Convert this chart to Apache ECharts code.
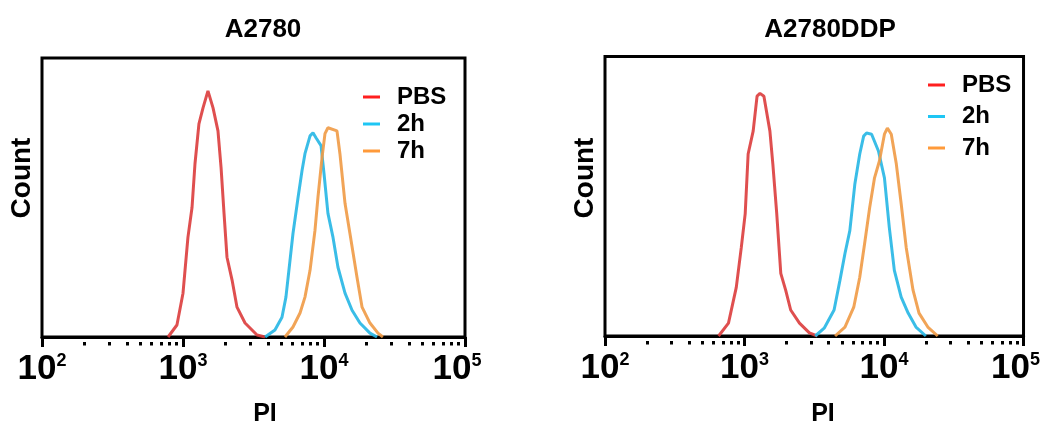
<!DOCTYPE html>
<html>
<head>
<meta charset="utf-8">
<script src="https://cdn.jsdelivr.net/npm/echarts@6.0.0/dist/echarts.min.js"></script>
<style>
  html, body { margin: 0; padding: 0; background: #fff; }
  #main { width: 1051px; height: 428px; }
</style>
</head>
<body>
<div id="main"></div>
<script>
// x values are log10(PI), y values are relative count (0-100)
var decades = [2, 3, 4, 5];

// A2780
var pbsA_x = [2.894, 2.957, 3.000, 3.035, 3.064, 3.085, 3.113, 3.142, 3.177, 3.213, 3.248, 3.270, 3.291, 3.312, 3.348, 3.383, 3.440, 3.525, 3.582];
var pbsA_y = [0, 4.3, 15.7, 35.7, 46.4, 62.1, 76.4, 82.1, 88.2, 82.1, 73.9, 60.7, 44.3, 28.6, 20.4, 10.7, 5.0, 0.7, 0];
var h2A_x = [3.582, 3.652, 3.702, 3.730, 3.759, 3.780, 3.816, 3.844, 3.865, 3.901, 3.922, 3.943, 3.979, 4.000, 4.028, 4.064, 4.099, 4.149, 4.199, 4.255, 4.326, 4.376];
var h2A_y = [0, 2.5, 7.1, 14.3, 27.5, 37.1, 50.0, 59.6, 65.7, 72.1, 73.2, 71.4, 68.6, 58.6, 44.3, 35.7, 25.0, 15.7, 9.6, 5.0, 1.4, 0];
var h7A_x = [3.723, 3.780, 3.830, 3.865, 3.901, 3.936, 3.957, 3.986, 4.007, 4.028, 4.092, 4.113, 4.149, 4.184, 4.234, 4.270, 4.326, 4.383, 4.418];
var h7A_y = [0, 3.6, 8.6, 14.3, 23.9, 38.2, 50.0, 64.3, 72.9, 75.0, 73.9, 65.7, 47.9, 37.1, 21.4, 10.7, 5.0, 1.4, 0];

// A2780DDP
var pbsB_x = [2.814, 2.885, 2.941, 2.977, 3.005, 3.026, 3.062, 3.090, 3.111, 3.139, 3.182, 3.203, 3.231, 3.260, 3.295, 3.331, 3.394, 3.465, 3.522];
var pbsB_y = [0, 4.6, 17.4, 31.7, 43.8, 65.1, 73.3, 85.8, 86.8, 85.8, 73.3, 61.6, 43.8, 22.4, 16.4, 9.3, 4.6, 1.1, 0];
var h2B_x = [3.507, 3.571, 3.642, 3.684, 3.720, 3.755, 3.791, 3.826, 3.854, 3.875, 3.911, 3.960, 4.003, 4.038, 4.074, 4.123, 4.173, 4.229, 4.300];
var h2B_y = [0, 2.8, 9.3, 19.9, 29.5, 37.7, 54.4, 65.1, 71.5, 72.6, 72.2, 66.2, 56.6, 38.8, 23.5, 13.9, 8.2, 3.2, 0];
var h7B_x = [3.649, 3.720, 3.783, 3.826, 3.861, 3.897, 3.932, 3.967, 4.003, 4.024, 4.052, 4.088, 4.123, 4.159, 4.208, 4.251, 4.314, 4.385];
var h7B_y = [0, 3.2, 10.3, 21.0, 33.1, 45.9, 56.6, 62.6, 72.2, 74.4, 72.2, 61.6, 47.3, 31.7, 16.4, 8.2, 3.2, 0];

var seriesNames = ['PBS', '2h', '7h'];
var panelTitles = ['A2780', 'A2780DDP'];

var FONT = 'Liberation Sans, Arial, Helvetica, sans-serif';
var lineColors = ['#dc3c3c', '#25b6e4', '#ef9a45'];
var iconColors = ['#ff1f1f', '#1ec6f4', '#ff9a3a'];

function pairs(xs, ys) {
    return xs.map(function (x, i) { return [x, ys[i]]; });
}

// minor ticks at 2..9 x 10^n
var minorTicks = [];
[2, 3, 4].forEach(function (d) {
    for (var k = 2; k <= 9; k++) minorTicks.push(d + Math.log10(k));
});

function mainX(g) {
    return {
        type: 'value', gridIndex: g, min: 2, max: 5, interval: 1,
        axisLine: { show: true, lineStyle: { color: '#000', width: 3 } },
        axisTick: { show: true, length: 10, lineStyle: { color: '#000', width: 3 } },
        splitLine: { show: false },
        axisLabel: {
            margin: 15, showMinLabel: true, showMaxLabel: true, hideOverlap: false,
            formatter: function (v) {
                return '{b|10}{s|' + v + '}' + (v === 5 ? '{sp|}' : '');
            },
            rich: {
                b: { fontSize: 35, fontWeight: 'bold', fontFamily: FONT, color: '#000', lineHeight: 35 },
                s: { fontSize: 18, fontWeight: 'bold', fontFamily: FONT, color: '#000', verticalAlign: 'top', lineHeight: 20 },
                sp: { width: 16 }
            }
        }
    };
}

function minorX(g) {
    return {
        type: 'value', gridIndex: g, min: 2, max: 5, position: 'bottom', offset: 5,
        axisLine: { show: false },
        axisTick: { show: true, length: 3.5, customValues: minorTicks, lineStyle: { color: '#000', width: 3 } },
        axisLabel: { show: false },
        splitLine: { show: false }
    };
}

function yAx(g) {
    return {
        type: 'value', gridIndex: g, min: 0, max: 100,
        axisLine: { show: false }, axisTick: { show: false },
        axisLabel: { show: false }, splitLine: { show: false }
    };
}

function mkSeries(name, idx, g, xs, ys) {
    return {
        name: name, type: 'line', xAxisIndex: g * 2, yAxisIndex: g,
        data: pairs(xs, ys), showSymbol: false, symbol: 'none',
        itemStyle: { color: iconColors[idx] },
        lineStyle: { color: lineColors[idx], width: 3, opacity: 0.9 },
        z: 3
    };
}

var legendText = { fontSize: 24, fontWeight: 'bold', fontFamily: FONT, color: '#000', lineHeight: 24, padding: [0, 0, 0, 12] };

var option = {
    animation: false,
    title: [
        { text: panelTitles[0], left: 258, top: 12, textAlign: 'center',
          textStyle: { fontSize: 26, fontWeight: 'bold', fontFamily: FONT, color: '#000' } },
        { text: panelTitles[1], left: 825, top: 12, textAlign: 'center',
          textStyle: { fontSize: 26, fontWeight: 'bold', fontFamily: FONT, color: '#000' } }
    ],
    grid: [
        { left: 42, top: 58, width: 423, height: 279, show: true, borderColor: '#000', borderWidth: 3, backgroundColor: 'transparent' },
        { left: 605, top: 56.5, width: 423, height: 279.5, show: true, borderColor: '#000', borderWidth: 3, backgroundColor: 'transparent' }
    ],
    xAxis: [mainX(0), minorX(0), mainX(1), minorX(1)],
    yAxis: [yAx(0), yAx(1)],
    legend: [
        { data: seriesNames, orient: 'vertical', left: 363, top: 85, icon: 'rect',
          itemWidth: 17, itemHeight: 3, itemGap: 3, padding: 0, textStyle: legendText, selectedMode: false },
        { data: seriesNames, orient: 'vertical', left: 928, top: 73, icon: 'rect',
          itemWidth: 17, itemHeight: 3, itemGap: 7.5, padding: 0, textStyle: legendText, selectedMode: false }
    ],
    graphic: [
        { type: 'text', x: 22, y: 178, rotation: Math.PI / 2,
          style: { text: 'Count', font: 'bold 28px ' + FONT, fill: '#000', align: 'center', verticalAlign: 'middle' } },
        { type: 'text', x: 585, y: 178, rotation: Math.PI / 2,
          style: { text: 'Count', font: 'bold 28px ' + FONT, fill: '#000', align: 'center', verticalAlign: 'middle' } },
        { type: 'text', x: 265, y: 414,
          style: { text: 'PI', font: 'bold 25px ' + FONT, fill: '#000', align: 'center', verticalAlign: 'middle' } },
        { type: 'text', x: 823, y: 414,
          style: { text: 'PI', font: 'bold 25px ' + FONT, fill: '#000', align: 'center', verticalAlign: 'middle' } }
    ],
    series: [
        mkSeries('PBS', 0, 0, pbsA_x, pbsA_y),
        mkSeries('2h', 1, 0, h2A_x, h2A_y),
        mkSeries('7h', 2, 0, h7A_x, h7A_y),
        mkSeries('PBS', 0, 1, pbsB_x, pbsB_y),
        mkSeries('2h', 1, 1, h2B_x, h2B_y),
        mkSeries('7h', 2, 1, h7B_x, h7B_y)
    ]
};

var chart = echarts.init(document.getElementById('main'), null, { renderer: 'canvas' });
chart.setOption(option);
</script>
</body>
</html>
